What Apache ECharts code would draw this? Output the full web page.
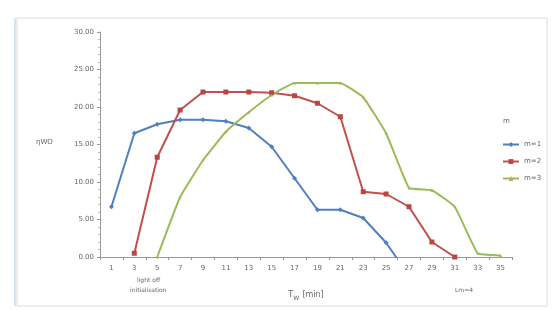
<!DOCTYPE html>
<html>
<head>
<meta charset="utf-8">
<script src="https://cdn.jsdelivr.net/npm/echarts@6/dist/echarts.min.js"></script>
<style>
  html, body { margin: 0; padding: 0; background: #fff; }
  #chart { width: 556px; height: 310px; }
</style>
</head>
<body>
<div id="chart"></div>
<script>
// x categories (T_W in min)
const categories = ['1', '3', '5', '7', '9', '11', '13', '15', '17', '19', '21', '23', '25', '27', '29', '31', '33', '35']
// y ticks
const yTicks = [0, 5, 10, 15, 20, 25, 30]
// series values
const seriesNames = ['m=1', 'm=2', 'm=3']
const blueValues = [6.7, 16.5, 17.7, 18.3, 18.3, 18.1, 17.2, 14.7, 10.5, 6.3, 6.3, 5.2, 1.9, -2.5, null, null, null, null]
const redValues = [null, 0.5, 13.3, 19.6, 22.0, 22.0, 22.0, 21.9, 21.5, 20.5, 18.7, 8.7, 8.4, 6.7, 2.0, 0.0, null, null]
const greenValues = [null, null, 0.0, 8.0, 12.9, 16.7, 19.3, 21.6, 23.2, 23.2, 23.2, 21.3, 16.5, 9.2, 8.9, 6.7, 0.5, 0.2]

const blue = '#4f81bd'
const red = '#c0504d'
const green = '#9bbb59'
const labelColor = '#666'

let chart = echarts.init(document.getElementById('chart'))

chart.setOption({
  animation: false,
  backgroundColor: '#fff',
  grid: { left: 100, right: 44, top: 32, bottom: 53 },
  legend: {
    orient: 'vertical',
    left: 497,
    top: 136,
    itemWidth: 16,
    itemHeight: 6,
    itemGap: 10,
    textStyle: { fontSize: 7, color: labelColor, fontFamily: 'DejaVu Sans' },
    data: seriesNames
  },
  xAxis: {
    type: 'category',
    data: categories,
    boundaryGap: true,
    axisLine: { lineStyle: { color: '#999' } },
    axisTick: { show: true, length: 3, lineStyle: { color: '#999' } },
    axisLabel: { fontSize: 7, color: labelColor, margin: 8, fontFamily: 'DejaVu Sans' },
    name: '{t|T}{s|W} {t|[min]}',
    nameLocation: 'middle',
    nameGap: 32,
    nameTextStyle: {
      rich: {
        t: { fontSize: 8, color: labelColor, fontFamily: 'DejaVu Sans' },
        s: { fontSize: 6, color: labelColor, verticalAlign: 'bottom', padding: [6, 0, 0, 0], fontFamily: 'DejaVu Sans' }
      }
    }
  },
  yAxis: {
    type: 'value',
    min: yTicks[0],
    max: yTicks[yTicks.length - 1],
    interval: 5,
    axisLine: { show: true, lineStyle: { color: '#999' } },
    axisTick: { show: true, length: 3, lineStyle: { color: '#999' } },
    minorTick: { show: true, splitNumber: 5, length: 2, lineStyle: { color: '#bbb' } },
    splitLine: { show: false },
    axisLabel: {
      fontSize: 7,
      color: labelColor,
      margin: 6,
      fontFamily: 'DejaVu Sans',
      formatter: v => v.toFixed(2)
    }
  },
  series: [
    {
      name: seriesNames[0],
      type: 'line',
      data: blueValues,
      symbol: 'diamond',
      symbolSize: 5,
      lineStyle: { width: 2, color: blue },
      itemStyle: { color: blue },
      clip: true
    },
    {
      name: seriesNames[1],
      type: 'line',
      data: redValues,
      symbol: 'rect',
      symbolSize: 5,
      lineStyle: { width: 2, color: red },
      itemStyle: { color: '#b84744' },
      clip: true
    },
    {
      name: seriesNames[2],
      type: 'line',
      data: greenValues,
      symbol: 'triangle',
      symbolSize: 3,
      smooth: 0.1,
      lineStyle: { width: 2, color: green },
      itemStyle: { color: green },
      clip: true
    }
  ],
  graphic: [
    // outer frame of the figure
    { type: 'rect', shape: { x: 17, y: 18, width: 530, height: 288 }, style: { fill: 'none', stroke: '#d8dde2', lineWidth: 1 } },
    { type: 'line', shape: { x1: 15, y1: 18, x2: 15, y2: 306 }, style: { stroke: '#cfe8f0', lineWidth: 2 } },
    // y axis name
    { type: 'text', left: 36, top: 139, style: { text: 'ηWO', fontSize: 7, fill: labelColor, fontFamily: 'DejaVu Sans' } },
    // legend header
    { type: 'text', left: 503, top: 118, style: { text: 'm', fontSize: 7, fill: labelColor, fontFamily: 'DejaVu Sans' } },
    // annotations under the x axis
    { type: 'text', left: 137, top: 277, style: { text: 'light off', fontSize: 6, fill: labelColor, fontFamily: 'DejaVu Sans' } },
    { type: 'text', left: 130, top: 287, style: { text: 'initialisation', fontSize: 6, fill: labelColor, fontFamily: 'DejaVu Sans' } },
    { type: 'text', left: 455, top: 287, style: { text: 'Lm=4', fontSize: 6, fill: labelColor, fontFamily: 'DejaVu Sans' } }
  ]
})
</script>
</body>
</html>
